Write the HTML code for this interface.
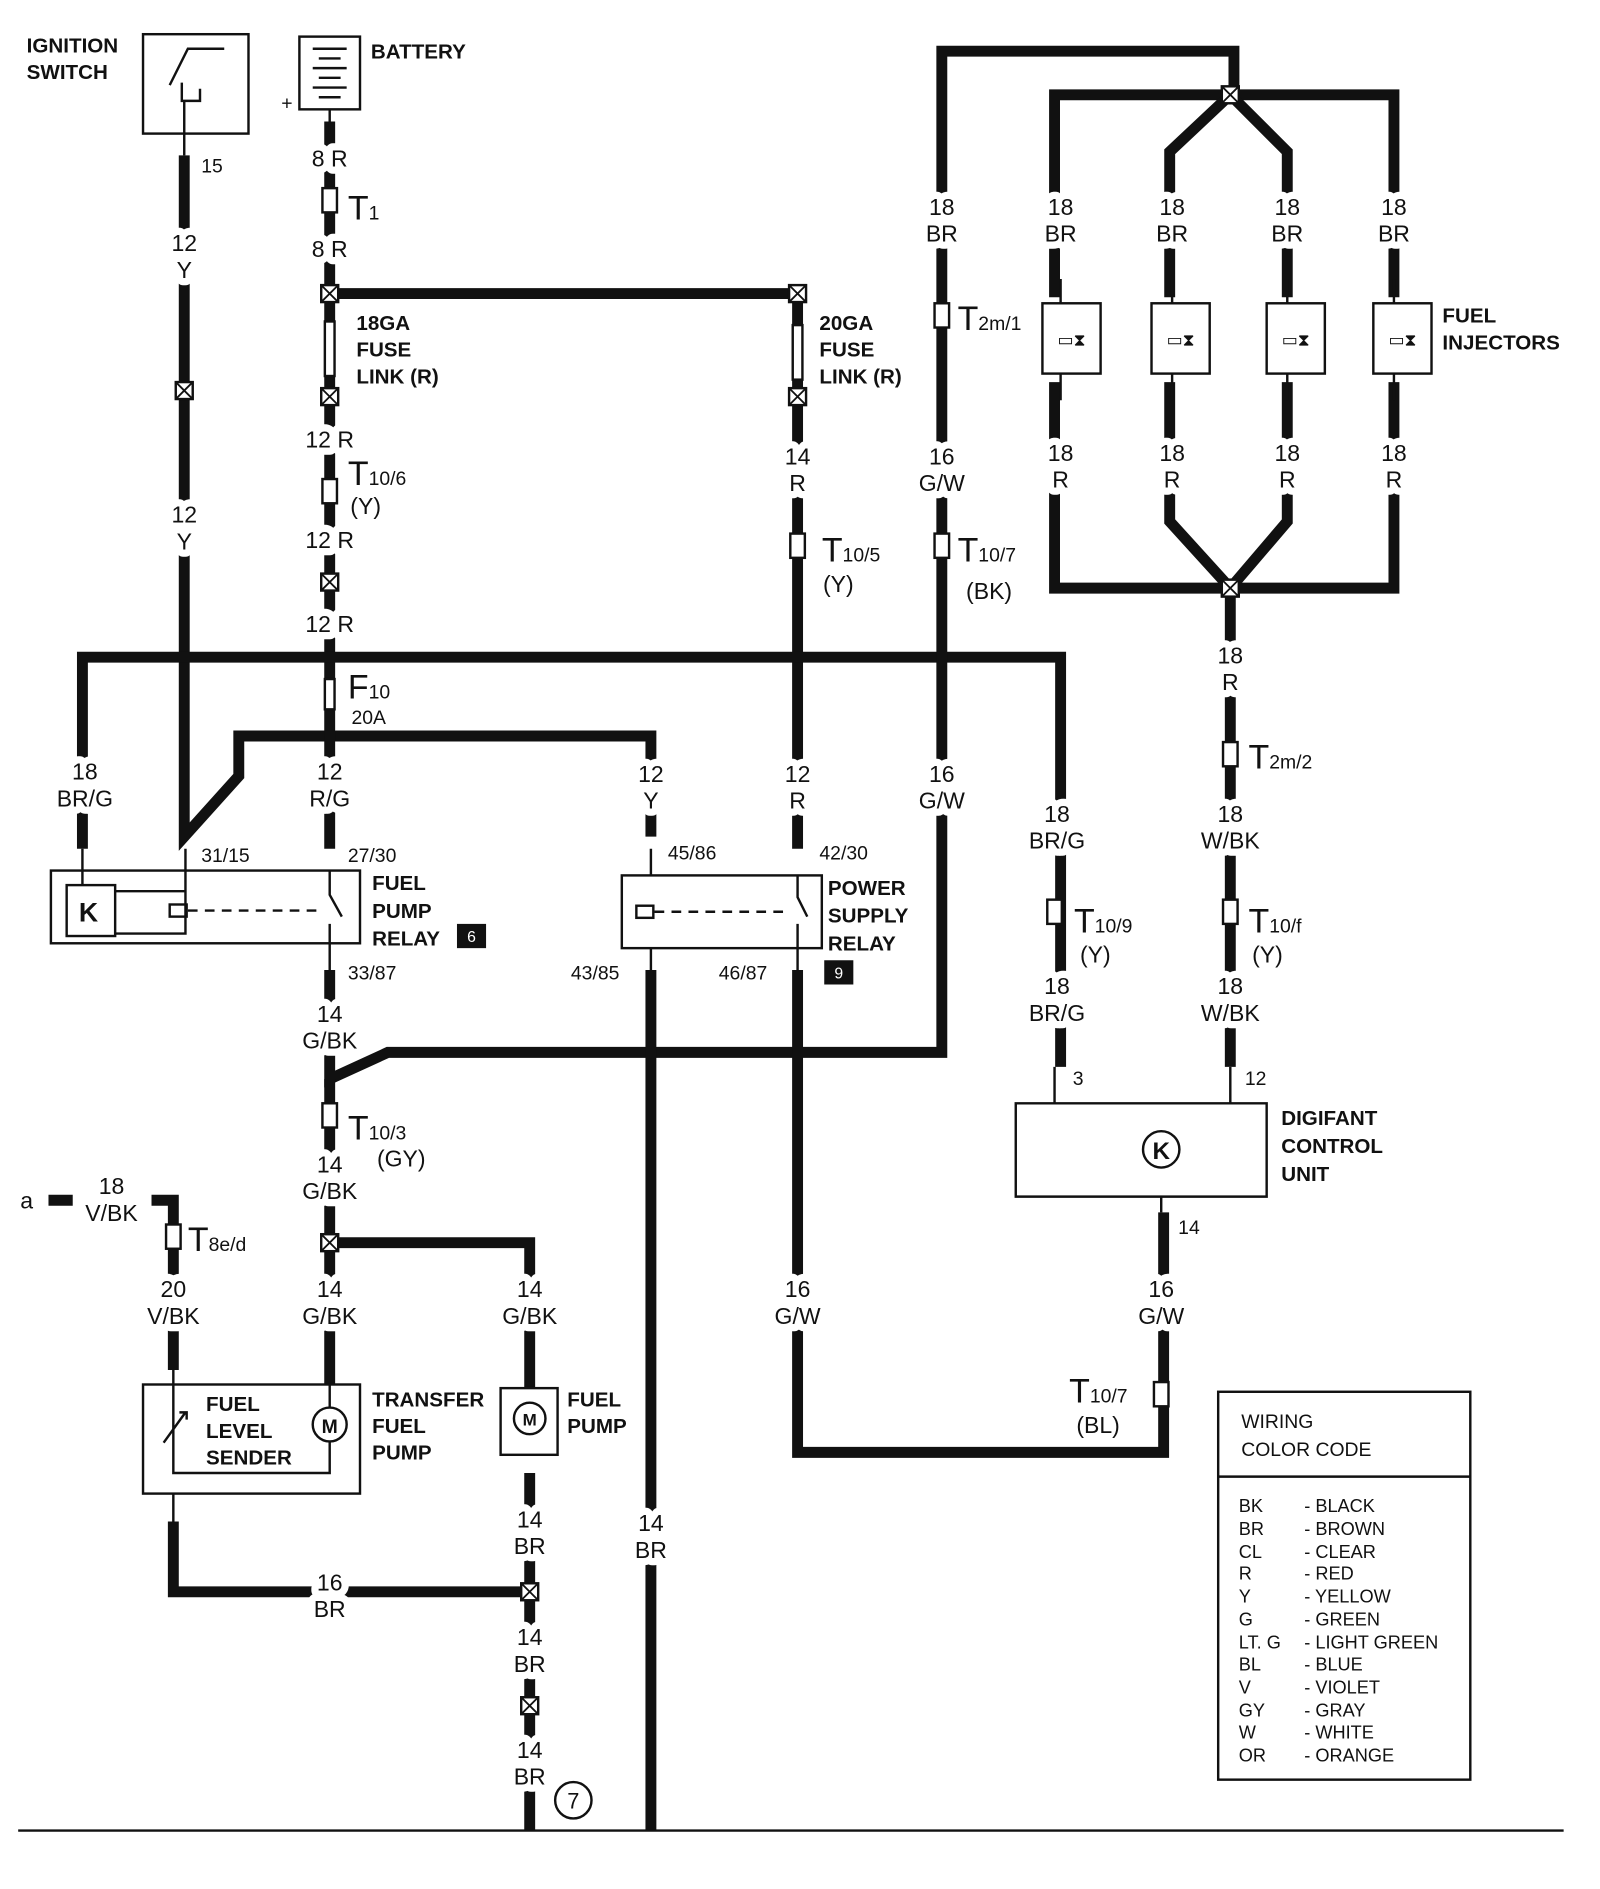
<!DOCTYPE html>
<html><head><meta charset="utf-8"><style>
html,body{margin:0;padding:0;background:#fff;}
svg{display:block;}
text{font-family:"Liberation Sans",sans-serif;fill:#111;}
.l{font-size:19px;text-anchor:middle;stroke:#fff;stroke-width:12px;paint-order:stroke;stroke-linejoin:round;}
.b{font-size:17px;font-weight:bold;}
.s{font-size:16px;stroke:#fff;stroke-width:8px;paint-order:stroke;}
.w{fill:none;stroke:#111;stroke-width:9;stroke-linejoin:miter;}
.t{fill:none;stroke:#111;stroke-width:2;}
.c{font-size:15px;}
</style></head><body>
<svg width="1600" height="1889" viewBox="0 0 1320 1558" xmlns="http://www.w3.org/2000/svg">
<g class="w">
<path d="M152 128V690L197 640V607H537V690"/>
<path d="M272 100V700"/>
<path d="M272 242H658V700"/>
<path d="M68 700V542H875V880"/>
<path d="M272 800V890L320 868H777V42H1018V78"/>
<path d="M272 890V1142"/>
<path d="M272 1025H437V1145"/>
<path d="M437 1215V1510"/>
<path d="M537 800V1510"/>
<path d="M658 800V1198H960V1000"/>
<path d="M1015 485V880"/>
<path d="M60 990H40"/>
<path d="M125 990H143V1130"/>
<path d="M143 1255V1313H437"/>
<path d="M870 245V78H1150V245"/>
<path d="M870 315V485H1150V315"/>
<path d="M1015 78L965 125V245M1015 78L1062 125V245"/>
<path d="M965 315V430L1015 485L1062 430V315"/>
</g>
<line x1="15" y1="1510" x2="1290" y2="1510" stroke="#111" stroke-width="2"/>
<g fill="#fff" stroke="#111" stroke-width="2">
<rect x="265" y="235" width="14" height="14"/><rect x="651" y="235" width="14" height="14"/>
<rect x="265" y="320" width="14" height="14"/><rect x="651" y="320" width="14" height="14"/>
<rect x="145" y="315" width="14" height="14"/><rect x="265" y="473" width="14" height="14"/>
<rect x="265" y="1018" width="14" height="14"/><rect x="430" y="1306" width="14" height="14"/>
<rect x="430" y="1400" width="14" height="14"/><rect x="1008" y="71" width="14" height="14"/>
<rect x="1008" y="478" width="14" height="14"/>
<rect x="268" y="265" width="8" height="45"/><rect x="654" y="268" width="8" height="45"/><rect x="268" y="560" width="8" height="25"/>
<rect x="266" y="155" width="12" height="20"/><rect x="266" y="395" width="12" height="20"/>
<rect x="652" y="440" width="12" height="20"/><rect x="771" y="440" width="12" height="20"/>
<rect x="771" y="250" width="12" height="20"/><rect x="266" y="910" width="12" height="20"/>
<rect x="864" y="742" width="12" height="20"/><rect x="1009" y="742" width="12" height="20"/>
<rect x="1009" y="612" width="12" height="20"/><rect x="137" y="1010" width="12" height="20"/>
<rect x="952" y="1140" width="12" height="20"/>
</g>
<g stroke="#111" stroke-width="1.5">
<path d="M265 235l14 14M279 235l-14 14M651 235l14 14M665 235l-14 14M265 320l14 14M279 320l-14 14M651 320l14 14M665 320l-14 14M145 315l14 14M159 315l-14 14M265 473l14 14M279 473l-14 14M265 1018l14 14M279 1018l-14 14M430 1306l14 14M444 1306l-14 14M430 1400l14 14M444 1400l-14 14M1008 71l14 14M1022 71l-14 14M1008 478l14 14M1022 478l-14 14"/>
</g>
<g class="t">
<rect x="118" y="28" width="87" height="82"/>
<path d="M140 70l15 -30h30M150 68v15h15v-10M152 83v45"/>
<rect x="247" y="30" width="50" height="60"/>
<path d="M258 40h28M263 48h18M258 56h28M263 64h18M258 72h28M263 80h18M272 90v20"/>
<rect x="42" y="718" width="255" height="60"/>
<rect x="55" y="730" width="40" height="42"/>
<path d="M95 735h58V700M95 770h58v-35M68 700v30"/>
<rect x="140" y="746" width="14" height="10"/>
<path d="M155 751h110" stroke-dasharray="8 6"/>
<path d="M272 718v20l10 18M272 762v38"/>
<rect x="513" y="722" width="165" height="60"/>
<rect x="525" y="747" width="14" height="10"/>
<path d="M540 752h110" stroke-dasharray="8 6"/>
<path d="M537 700v22M537 782v18M658 722v18l8 16M658 762v38"/>
<path d="M838 910h207v77H838z"/>
<circle cx="958" cy="948" r="15"/>
<path d="M870 880v30M1015 880v30M958 987v13"/>
<rect x="118" y="1142" width="179" height="90"/>
<path d="M143 1130v85h129v-26M143 1255v-23"/>
<path d="M135 1190l18-25M148 1165h6v6"/>
<circle cx="272" cy="1175" r="14"/>
<path d="M272 1142v19"/>
<rect x="413" y="1145" width="47" height="55"/>
<circle cx="437" cy="1170" r="13"/>
<rect x="860" y="250" width="48" height="58"/><rect x="950" y="250" width="48" height="58"/>
<rect x="1045" y="250" width="48" height="58"/><rect x="1133" y="250" width="48" height="58"/>
<path d="M875 230v20M875 308v22M967 230v20M967 308v22M1062 230v20M1062 308v22M1150 230v20M1150 308v22"/>
<rect x="1005" y="1148" width="208" height="320"/>
<path d="M1005 1218h208"/>
<circle cx="473" cy="1485" r="15"/>
</g>
<g font-size="14" text-anchor="middle">
<text x="884" y="285">▭⧗</text><text x="974" y="285">▭⧗</text><text x="1069" y="285">▭⧗</text><text x="1157" y="285">▭⧗</text>
</g>
<text x="73" y="760" font-size="22" font-weight="bold" text-anchor="middle">K</text>
<text x="958" y="956" font-size="20" font-weight="bold" text-anchor="middle">K</text>
<text x="272" y="1182" font-size="16" font-weight="bold" text-anchor="middle">M</text>
<text x="437" y="1176" font-size="14" font-weight="bold" text-anchor="middle">M</text>
<text x="473" y="1492" font-size="18" text-anchor="middle">7</text>
<rect x="377" y="762" width="24" height="20" fill="#111"/><text x="389" y="777" font-size="13" text-anchor="middle" style="fill:#fff">6</text>
<rect x="680" y="792" width="24" height="20" fill="#111"/><text x="692" y="807" font-size="13" text-anchor="middle" style="fill:#fff">9</text>
<g class="b">
<text x="22" y="43">IGNITION</text><text x="22" y="65">SWITCH</text>
<text x="306" y="48">BATTERY</text>
<text x="294" y="272">18GA</text><text x="294" y="294">FUSE</text><text x="294" y="316">LINK  (R)</text>
<text x="676" y="272">20GA</text><text x="676" y="294">FUSE</text><text x="676" y="316">LINK  (R)</text>
<text x="1190" y="266">FUEL</text><text x="1190" y="288">INJECTORS</text>
<text x="307" y="734">FUEL</text><text x="307" y="757">PUMP</text><text x="307" y="780">RELAY</text>
<text x="683" y="738">POWER</text><text x="683" y="761">SUPPLY</text><text x="683" y="784">RELAY</text>
<text x="1057" y="928">DIGIFANT</text><text x="1057" y="951">CONTROL</text><text x="1057" y="974">UNIT</text>
<text x="170" y="1164">FUEL</text><text x="170" y="1186">LEVEL</text><text x="170" y="1208">SENDER</text>
<text x="307" y="1160">TRANSFER</text><text x="307" y="1182">FUEL</text><text x="307" y="1204">PUMP</text>
<text x="468" y="1160">FUEL</text><text x="468" y="1182">PUMP</text>
</g>
<text x="232" y="90" font-size="16">+</text>
<g class="l">
<text x="152" y="207">12</text><text x="152" y="229">Y</text>
<text x="152" y="431">12</text><text x="152" y="453">Y</text>
<text x="272" y="137">8  R</text><text x="272" y="212">8  R</text>
<text x="272" y="369">12  R</text><text x="272" y="452">12  R</text><text x="272" y="521">12  R</text>
<text x="658" y="383">14</text><text x="658" y="405">R</text>
<text x="777" y="177">18</text><text x="777" y="199">BR</text>
<text x="777" y="383">16</text><text x="777" y="405">G/W</text>
<text x="875" y="177">18</text><text x="875" y="199">BR</text>
<text x="967" y="177">18</text><text x="967" y="199">BR</text>
<text x="1062" y="177">18</text><text x="1062" y="199">BR</text>
<text x="1150" y="177">18</text><text x="1150" y="199">BR</text>
<text x="875" y="380">18</text><text x="875" y="402">R</text>
<text x="967" y="380">18</text><text x="967" y="402">R</text>
<text x="1062" y="380">18</text><text x="1062" y="402">R</text>
<text x="1150" y="380">18</text><text x="1150" y="402">R</text>
<text x="1015" y="547">18</text><text x="1015" y="569">R</text>
<text x="1015" y="678">18</text><text x="1015" y="700">W/BK</text>
<text x="1015" y="820">18</text><text x="1015" y="842">W/BK</text>
<text x="872" y="678">18</text><text x="872" y="700">BR/G</text>
<text x="872" y="820">18</text><text x="872" y="842">BR/G</text>
<text x="70" y="643">18</text><text x="70" y="665">BR/G</text>
<text x="272" y="643">12</text><text x="272" y="665">R/G</text>
<text x="537" y="645">12</text><text x="537" y="667">Y</text>
<text x="658" y="645">12</text><text x="658" y="667">R</text>
<text x="777" y="645">16</text><text x="777" y="667">G/W</text>
<text x="272" y="843">14</text><text x="272" y="865">G/BK</text>
<text x="272" y="967">14</text><text x="272" y="989">G/BK</text>
<text x="272" y="1070">14</text><text x="272" y="1092">G/BK</text>
<text x="437" y="1070">14</text><text x="437" y="1092">G/BK</text>
<text x="92" y="985">18</text><text x="92" y="1007">V/BK</text>
<text x="143" y="1070">20</text><text x="143" y="1092">V/BK</text>
<text x="658" y="1070">16</text><text x="658" y="1092">G/W</text>
<text x="958" y="1070">16</text><text x="958" y="1092">G/W</text>
<text x="272" y="1312">16</text><text x="272" y="1334">BR</text>
<text x="437" y="1260">14</text><text x="437" y="1282">BR</text>
<text x="437" y="1357">14</text><text x="437" y="1379">BR</text>
<text x="437" y="1450">14</text><text x="437" y="1472">BR</text>
<text x="537" y="1263">14</text><text x="537" y="1285">BR</text>
<text x="22" y="997">a</text>
</g>
<g class="s">
<text x="166" y="142">15</text>
<text x="166" y="711">31/15</text><text x="287" y="711">27/30</text><text x="287" y="808">33/87</text>
<text x="551" y="709">45/86</text><text x="676" y="709">42/30</text>
<text x="471" y="808">43/85</text><text x="593" y="808">46/87</text>
<text x="885" y="895">3</text><text x="1027" y="895">12</text><text x="972" y="1018">14</text>
</g>
<g font-size="28">
<text x="287" y="181">T<tspan font-size="16">1</tspan></text>
<text x="287" y="400">T<tspan font-size="16">10/6</tspan></text>
<text x="287" y="576">F<tspan font-size="16">10</tspan></text>
<text x="678" y="463">T<tspan font-size="16">10/5</tspan></text>
<text x="790" y="463">T<tspan font-size="16">10/7</tspan></text>
<text x="790" y="272">T<tspan font-size="16">2m/1</tspan></text>
<text x="1030" y="634">T<tspan font-size="16">2m/2</tspan></text>
<text x="886" y="769">T<tspan font-size="16">10/9</tspan></text>
<text x="1030" y="769">T<tspan font-size="16">10/f</tspan></text>
<text x="287" y="940">T<tspan font-size="16">10/3</tspan></text>
<text x="155" y="1032">T<tspan font-size="16">8e/d</tspan></text>
<text x="882" y="1157">T<tspan font-size="16">10/7</tspan></text>
</g>
<g font-size="19">
<text x="289" y="424">(Y)</text><text x="290" y="597" font-size="16">20A</text>
<text x="679" y="488">(Y)</text><text x="797" y="494">(BK)</text>
<text x="891" y="794">(Y)</text><text x="1033" y="794">(Y)</text>
<text x="311" y="962">(GY)</text><text x="888" y="1182">(BL)</text>
</g>
<g class="c">
<text x="1024" y="1178" font-size="16">WIRING</text><text x="1024" y="1201" font-size="16">COLOR CODE</text>
<text x="1022" y="1247">BK</text><text x="1076" y="1247">- BLACK</text>
<text x="1022" y="1266">BR</text><text x="1076" y="1266">- BROWN</text>
<text x="1022" y="1285">CL</text><text x="1076" y="1285">- CLEAR</text>
<text x="1022" y="1303">R</text><text x="1076" y="1303">- RED</text>
<text x="1022" y="1322">Y</text><text x="1076" y="1322">- YELLOW</text>
<text x="1022" y="1341">G</text><text x="1076" y="1341">- GREEN</text>
<text x="1022" y="1360">LT. G</text><text x="1076" y="1360">- LIGHT GREEN</text>
<text x="1022" y="1378">BL</text><text x="1076" y="1378">- BLUE</text>
<text x="1022" y="1397">V</text><text x="1076" y="1397">- VIOLET</text>
<text x="1022" y="1416">GY</text><text x="1076" y="1416">- GRAY</text>
<text x="1022" y="1434">W</text><text x="1076" y="1434">- WHITE</text>
<text x="1022" y="1453">OR</text><text x="1076" y="1453">- ORANGE</text>
</g>
</svg>
</body></html>
